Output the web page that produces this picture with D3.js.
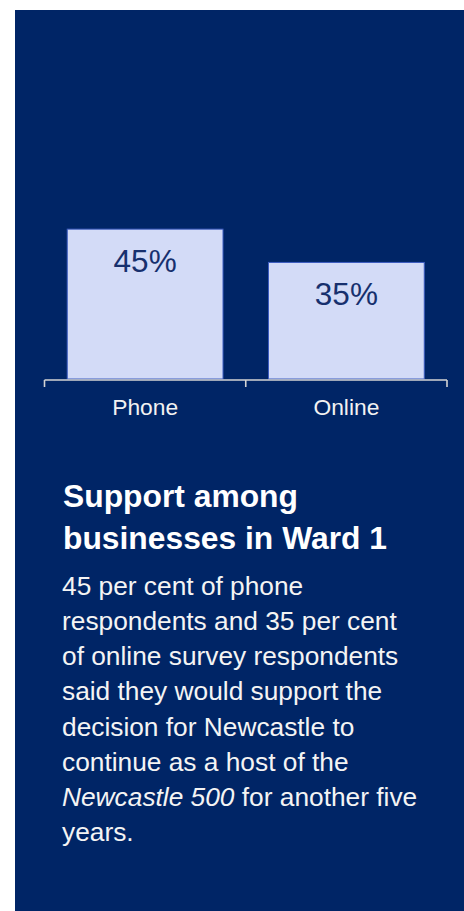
<!DOCTYPE html>
<html>
<head>
<meta charset="utf-8">
<script src="https://cdn.jsdelivr.net/npm/d3@7"></script>
<style>
  html, body { margin: 0; padding: 0; background: #ffffff; }
  svg { display: block; }
  text { font-family: "Liberation Sans", Arial, Helvetica, sans-serif; }
</style>
</head>
<body>
<svg id="chart" width="464" height="911"></svg>
<script>
// Survey support by response channel
const categories = ["Phone", "Online"];
const supportPct = [45, 35];
const titleLines = ["Support among", "businesses in Ward 1"];
const bodyLines = [
  [["45 per cent of phone", false]],
  [["respondents and 35 per cent", false]],
  [["of online survey respondents", false]],
  [["said they would support the", false]],
  [["decision for Newcastle to", false]],
  [["continue as a host of the", false]],
  [["Newcastle 500", true], [" for another five", false]],
  [["years.", false]]
];

const svg = d3.select("#chart");
const W = 464, H = 911;

// Navy card
svg.append("rect")
  .attr("x", 15).attr("y", 10)
  .attr("width", W - 15).attr("height", H - 10)
  .attr("fill", "#002566");

const baseY = 379;
const x = d3.scaleBand()
  .domain(categories)
  .range([44.5, 447])
  .paddingInner(0.226)
  .paddingOuter(0.113);

const y = d3.scaleLinear().domain([0, 100]).range([baseY, 46]);

const data = categories.map((c, i) => ({ cat: c, v: supportPct[i] }));

// Bars
svg.append("g").selectAll("rect")
  .data(data)
  .join("rect")
  .attr("x", d => x(d.cat))
  .attr("y", d => y(d.v))
  .attr("width", x.bandwidth())
  .attr("height", d => y(0) - y(d.v))
  .attr("fill", "#d3dbf7")
  .attr("stroke", "#3c5cc0")
  .attr("stroke-width", 1);

// Value labels inside bars
svg.append("g").selectAll("text")
  .data(data)
  .join("text")
  .attr("x", d => x(d.cat) + x.bandwidth() / 2)
  .attr("y", d => y(d.v) + 43)
  .attr("text-anchor", "middle")
  .attr("font-size", 31.5)
  .attr("fill", "#17306e")
  .text(d => d.v + "%");

// Category axis: baseline with ticks at band boundaries
const axisY = 380;
const [r0, r1] = x.range();
const boundaries = [r0, x(categories[1]) - x.step() * x.paddingInner() / 2, r1];
const axisG = svg.append("g");
axisG.append("line")
  .attr("x1", r0).attr("x2", r1)
  .attr("y1", axisY).attr("y2", axisY)
  .attr("stroke", "#d4d4d4").attr("stroke-width", 1.6);
axisG.selectAll("line.tick")
  .data(boundaries)
  .join("line")
  .attr("class", "tick")
  .attr("x1", d => d).attr("x2", d => d)
  .attr("y1", axisY).attr("y2", axisY + 7)
  .attr("stroke", "#d4d4d4").attr("stroke-width", 1.6);

svg.append("g")
  .attr("transform", `translate(0,${axisY})`)
  .call(d3.axisBottom(x).tickSize(0).tickPadding(0))
  .call(g => g.select(".domain").remove())
  .call(g => g.selectAll("text")
    .attr("dy", null)
    .attr("y", 35)
    .attr("font-size", 22.8)
    .attr("font-family", "\"Liberation Sans\", Arial, sans-serif")
    .attr("fill", "#f2f2f2"));

// Title
svg.append("g").selectAll("text")
  .data(titleLines)
  .join("text")
  .attr("x", 63)
  .attr("y", (d, i) => 507 + i * 41.5)
  .attr("font-size", 31.8)
  .attr("font-weight", "bold")
  .attr("fill", "#ffffff")
  .text(d => d);

// Body copy
const body = svg.append("g");
bodyLines.forEach((parts, i) => {
  const t = body.append("text")
    .attr("x", 62)
    .attr("y", 595 + i * 35.15)
    .attr("font-size", 26.3)
    .attr("fill", "#f4f4f4");
  parts.forEach(([s, ital]) => {
    t.append("tspan")
      .attr("font-style", ital ? "italic" : "normal")
      .attr("xml:space", "preserve")
      .text(s);
  });
});
</script>
</body>
</html>
